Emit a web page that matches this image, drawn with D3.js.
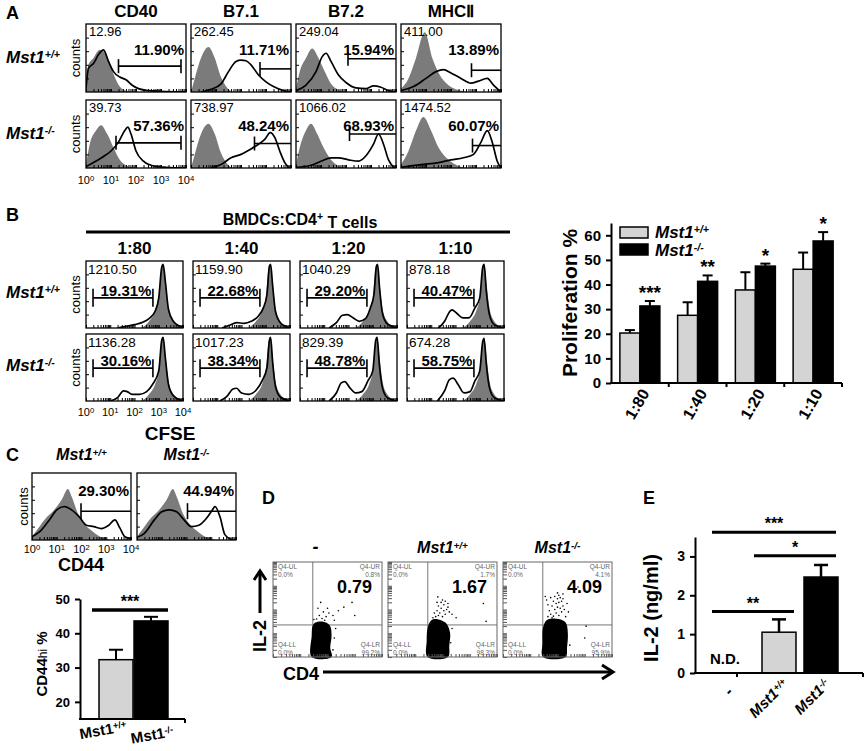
<!DOCTYPE html>
<html>
<head>
<meta charset="utf-8">
<script src="https://cdn.jsdelivr.net/npm/d3@7"></script>
<style>
  body { margin: 0; background: #fff; }
  svg { display: block; }
</style>
</head>
<body>
<svg id="fig" width="866" height="751"></svg>
<script>
// ---------- data ----------
const decades = ["0", "1", "2", "3", "4"];

// Panel A: surface markers, two genotypes (rows)
const aMarkers = ["CD40", "B7.1", "B7.2", "MHC\u2161"];
const aMfi = [["12.96", "262.45", "249.04", "411.00"], ["39.73", "738.97", "1066.02", "1474.52"]];
const aPct = [["11.90%", "11.71%", "15.94%", "13.89%"], ["57.36%", "48.24%", "68.93%", "60.07%"]];
// gate: [from log, to log, height]
const aGates = [
  [[1.3, 3.8, 0.38], [2.76, 4, 0.34], [2.08, 4, 0.49], [2.82, 4, 0.32]],
  [[1.2, 3.8, 0.37], [2.54, 4, 0.36], [2.14, 4, 0.5], [2.86, 4, 0.33]]
];
// histogram outlines: [log fluorescence, relative counts]
const aIso = [
  [
    [[0, 0.08], [0.1, 0.4], [0.3, 0.5], [0.55, 0.62], [0.75, 0.58], [0.95, 0.42], [1.15, 0.22], [1.35, 0.08], [1.6, 0.02], [2, 0]],
    [[0, 0], [0.15, 0.2], [0.4, 0.5], [0.7, 0.66], [0.95, 0.5], [1.2, 0.22], [1.45, 0.06], [1.7, 0]],
    [[0, 0.05], [0.15, 0.3], [0.4, 0.5], [0.65, 0.64], [0.9, 0.5], [1.15, 0.3], [1.4, 0.12], [1.7, 0.03], [2, 0]],
    [[0, 0.05], [0.3, 0.2], [0.6, 0.5], [0.95, 0.88], [1.25, 0.5], [1.55, 0.25], [1.9, 0.1], [2.3, 0.03], [2.7, 0]]
  ],
  [
    [[0, 0.05], [0.15, 0.35], [0.4, 0.55], [0.6, 0.63], [0.85, 0.5], [1.1, 0.3], [1.35, 0.12], [1.6, 0.04], [2, 0]],
    [[0, 0], [0.15, 0.2], [0.4, 0.5], [0.7, 0.65], [0.95, 0.5], [1.2, 0.22], [1.45, 0.06], [1.7, 0]],
    [[0, 0.05], [0.15, 0.3], [0.4, 0.55], [0.6, 0.65], [0.85, 0.5], [1.1, 0.3], [1.4, 0.12], [1.7, 0.03], [2, 0]],
    [[0, 0.05], [0.3, 0.25], [0.6, 0.55], [0.9, 0.75], [1.2, 0.55], [1.5, 0.3], [1.9, 0.12], [2.3, 0.03], [2.7, 0]]
  ]
];
const aStain = [
  [
    [[0, 0.05], [0.1, 0.35], [0.3, 0.42], [0.5, 0.55], [0.7, 0.62], [0.9, 0.45], [1.1, 0.3], [1.35, 0.22], [1.6, 0.18], [1.85, 0.1], [2.1, 0.05], [2.5, 0.02], [3, 0.01], [4, 0]],
    [[0.4, 0], [0.8, 0.04], [1.2, 0.12], [1.5, 0.3], [1.8, 0.45], [2.0, 0.47], [2.2, 0.46], [2.4, 0.4], [2.7, 0.25], [3.0, 0.15], [3.3, 0.08], [3.7, 0.02], [4, 0]],
    [[0, 0.02], [0.4, 0.1], [0.8, 0.3], [1.05, 0.52], [1.2, 0.57], [1.4, 0.45], [1.7, 0.25], [2.0, 0.14], [2.4, 0.06], [2.8, 0.05], [3.1, 0.09], [3.4, 0.07], [3.7, 0.02], [4, 0]],
    [[0, 0.02], [0.5, 0.08], [1.0, 0.2], [1.4, 0.3], [1.7, 0.33], [2.0, 0.28], [2.4, 0.2], [2.8, 0.13], [3.1, 0.16], [3.45, 0.2], [3.7, 0.1], [4, 0]]
  ],
  [
    [[0, 0.02], [0.3, 0.08], [0.7, 0.17], [1.0, 0.25], [1.3, 0.38], [1.55, 0.55], [1.67, 0.6], [1.8, 0.5], [2.0, 0.25], [2.3, 0.1], [2.7, 0.03], [3.2, 0.01], [4, 0]],
    [[0.8, 0], [1.2, 0.05], [1.6, 0.15], [2.0, 0.2], [2.4, 0.28], [2.7, 0.35], [2.95, 0.42], [3.17, 0.52], [3.35, 0.45], [3.55, 0.25], [3.75, 0.08], [3.95, 0]],
    [[0, 0.01], [0.6, 0.04], [1.0, 0.1], [1.4, 0.15], [1.7, 0.15], [2.1, 0.12], [2.5, 0.1], [2.8, 0.18], [3.1, 0.35], [3.3, 0.5], [3.5, 0.35], [3.7, 0.12], [3.95, 0]],
    [[0, 0.01], [0.8, 0.05], [1.5, 0.08], [2.0, 0.12], [2.5, 0.15], [2.9, 0.2], [3.2, 0.38], [3.45, 0.55], [3.65, 0.38], [3.85, 0.1], [4, 0]]
  ]
];

// Panel B: CFSE dilution
const bRatios = ["1:80", "1:40", "1:20", "1:10"];
const bMfi = [["1210.50", "1159.90", "1040.29", "878.18"], ["1136.28", "1017.23", "829.39", "674.28"]];
const bPct = [["19.31%", "22.68%", "29.20%", "40.47%"], ["30.16%", "38.34%", "48.78%", "58.75%"]];
const bGates = [[0.29, 2.76, 0.45], [0.29, 2.76, 0.49]];
const bIso = [[2.3, 0], [2.6, 0.1], [2.85, 0.25], [3.0, 0.45], [3.12, 0.9], [3.18, 0.95], [3.27, 0.7], [3.4, 0.3], [3.6, 0.1], [3.85, 0.02], [4, 0]];
const bStain = [
  [
    [[1.3, 0], [1.6, 0.02], [2.0, 0.05], [2.3, 0.08], [2.6, 0.14], [2.85, 0.25], [3.0, 0.45], [3.12, 0.9], [3.18, 0.95], [3.27, 0.7], [3.4, 0.28], [3.6, 0.1], [3.85, 0.03], [4, 0.01]],
    [[1.2, 0], [1.5, 0.04], [1.8, 0.08], [2.1, 0.07], [2.4, 0.1], [2.7, 0.18], [2.9, 0.3], [3.05, 0.5], [3.15, 0.92], [3.2, 0.95], [3.28, 0.65], [3.4, 0.25], [3.6, 0.08], [3.85, 0.02], [4, 0]],
    [[1.2, 0], [1.5, 0.08], [1.75, 0.19], [1.95, 0.2], [2.2, 0.15], [2.45, 0.1], [2.7, 0.14], [2.9, 0.3], [3.05, 0.5], [3.15, 0.92], [3.2, 0.95], [3.28, 0.6], [3.4, 0.22], [3.6, 0.06], [3.85, 0.02], [4, 0]],
    [[1.3, 0], [1.55, 0.1], [1.75, 0.24], [1.85, 0.27], [2.05, 0.22], [2.3, 0.15], [2.55, 0.15], [2.8, 0.3], [3.0, 0.45], [3.12, 0.9], [3.18, 0.95], [3.27, 0.55], [3.4, 0.2], [3.6, 0.05], [4, 0]]
  ],
  [
    [[1.0, 0], [1.3, 0.05], [1.55, 0.15], [1.7, 0.14], [1.9, 0.1], [2.2, 0.1], [2.5, 0.14], [2.75, 0.25], [3.0, 0.45], [3.12, 0.9], [3.18, 0.95], [3.27, 0.65], [3.4, 0.25], [3.6, 0.08], [4, 0]],
    [[1.1, 0], [1.4, 0.07], [1.65, 0.18], [1.8, 0.19], [2.0, 0.12], [2.3, 0.1], [2.6, 0.16], [2.85, 0.3], [3.05, 0.5], [3.15, 0.9], [3.2, 0.95], [3.28, 0.6], [3.4, 0.22], [3.6, 0.06], [4, 0]],
    [[1.2, 0], [1.5, 0.12], [1.7, 0.27], [1.85, 0.29], [2.05, 0.2], [2.3, 0.12], [2.55, 0.14], [2.8, 0.3], [3.0, 0.45], [3.12, 0.9], [3.18, 0.95], [3.27, 0.55], [3.4, 0.2], [3.6, 0.05], [4, 0]],
    [[1.25, 0], [1.55, 0.15], [1.75, 0.32], [1.9, 0.34], [2.1, 0.25], [2.35, 0.12], [2.6, 0.14], [2.8, 0.3], [3.0, 0.45], [3.12, 0.88], [3.18, 0.93], [3.27, 0.55], [3.4, 0.2], [3.6, 0.05], [4, 0]]
  ]
];
// Panel B bar chart
const prolifWT = [20.3, 27.5, 37.8, 46.2];
const prolifWTErr = [1.2, 5.3, 7.2, 6.8];
const prolifKO = [31.3, 41.3, 47.5, 57.7];
const prolifKOErr = [2.0, 2.4, 1.0, 3.6];
const prolifStars = ["***", "**", "*", "*"];
const prolifTicks = [0, 10, 20, 30, 40, 50, 60];

// Panel C: CD44
const cPct = ["29.30%", "44.94%"];
const cGates = [[1.98, 4, 0.43], [2.04, 4, 0.43]];
const cIso = [[0, 0.05], [0.2, 0.15], [0.5, 0.3], [0.9, 0.45], [1.2, 0.6], [1.45, 0.76], [1.6, 0.65], [1.85, 0.4], [2.1, 0.25], [2.4, 0.14], [2.7, 0.06], [3.0, 0.02], [3.3, 0]];
const cStain = [
  [[0, 0.05], [0.3, 0.12], [0.7, 0.3], [1.0, 0.45], [1.3, 0.5], [1.6, 0.45], [1.9, 0.35], [2.2, 0.22], [2.5, 0.2], [2.8, 0.17], [3.1, 0.22], [3.35, 0.3], [3.55, 0.18], [3.75, 0.05], [4, 0.02]],
  [[0, 0.04], [0.3, 0.1], [0.7, 0.3], [1.0, 0.42], [1.3, 0.45], [1.6, 0.42], [1.9, 0.3], [2.2, 0.2], [2.5, 0.22], [2.8, 0.32], [3.05, 0.45], [3.15, 0.5], [3.35, 0.35], [3.55, 0.08], [3.8, 0.01], [4, 0]]
];
const cd44Groups = ["+/+", "-/-"];
const cd44Vals = [32.3, 43.6];
const cd44Err = [2.9, 1.2];
const cd44Ticks = [20, 30, 40, 50];

// Panel D: IL-2 vs CD4 dot plots
const dTitles = ["-", "+/+", "-/-"];
const dBig = ["0.79", "1.67", "4.09"];
const dQuad = [["0.0%", "0.8%", "0.0%", "99.2%"], ["0.0%", "1.7%", "0.0%", "98.3%"], ["0.0%", "4.1%", "0.0%", "95.9%"]];
const dBlob = [
  [[1.42, 0], [1.42, 0.9], [1.45, 1.3], [1.55, 1.45], [1.75, 1.5], [1.95, 1.45], [2.1, 1.3], [2.15, 0.9], [2.1, 0.4], [2.15, 0]],
  [[1.45, 0], [1.42, 0.7], [1.45, 1.2], [1.55, 1.5], [1.7, 1.6], [1.95, 1.55], [2.15, 1.4], [2.28, 1.0], [2.25, 0.5], [2.2, 0]],
  [[1.47, 0], [1.45, 0.6], [1.47, 1.25], [1.6, 1.55], [1.8, 1.62], [2.05, 1.6], [2.3, 1.45], [2.38, 1.0], [2.35, 0.4], [2.3, 0]]
];
const dDots = [
  [[1.6, 1.6], [1.8, 1.62], [1.7, 1.75], [1.95, 1.7], [2.05, 1.85], [1.85, 1.9], [2.2, 1.75], [2.4, 1.95], [2.6, 2.1], [2.9, 2.3], [3.0, 1.75], [1.65, 2.05], [2.0, 2.05], [1.5, 1.58], [2.25, 1.55], [1.9, 1.55], [2.2, 0.3], [2.25, 0.8], [2.3, 1.2], [1.75, 2.3]],
  [[1.75, 1.7], [1.85, 1.75], [2.0, 1.7], [2.1, 1.8], [1.9, 1.85], [2.05, 1.95], [1.8, 1.95], [2.15, 2.0], [1.95, 2.05], [2.2, 2.1], [1.85, 2.15], [2.05, 2.2], [2.2, 2.25], [1.95, 2.3], [2.1, 2.35], [1.8, 2.3], [2.25, 1.9], [1.7, 1.85], [1.83, 2.53], [3.5, 2.25], [2.5, 1.65], [3.6, 1.5], [2.35, 1.8], [2.0, 2.4], [1.65, 1.65], [2.3, 0.6], [2.35, 1.2]],
  [[1.65, 1.7], [1.75, 1.8], [1.85, 1.72], [1.95, 1.85], [2.05, 1.75], [2.15, 1.9], [1.7, 1.95], [1.9, 2.0], [2.0, 2.1], [2.1, 2.05], [2.2, 2.15], [1.8, 2.15], [1.95, 2.25], [2.05, 2.3], [2.15, 2.35], [1.85, 2.35], [2.0, 2.45], [1.9, 2.55], [2.1, 2.5], [2.2, 2.45], [1.75, 2.5], [2.05, 2.6], [1.6, 2.4], [2.25, 2.0], [1.65, 2.2], [1.55, 2.55], [2.3, 1.7], [2.4, 1.9], [2.6, 2.75], [2.75, 2.95], [3.05, 1.3], [3.0, 0.8], [2.0, 2.7], [2.2, 2.65], [1.8, 1.65], [2.35, 2.25], [2.45, 0.5]]
];
const dQuadGate = [1.46, 1.35];

// Panel E: IL-2 secretion
const il2Groups = ["-", "+/+", "-/-"];
const il2Vals = [0, 1.05, 2.47];
const il2Err = [0, 0.33, 0.31];
const il2Ticks = [0, 1, 2, 3];
// [from group, to group, height, label]
const il2Sig = [[0, 2, 3.62, "***"], [1, 2, 3.02, "*"], [0, 1, 1.58, "**"]];

// ---------- drawing ----------
const svg = d3.select("#fig")
  .attr("font-family", "Arial, 'Liberation Sans', Helvetica, sans-serif");
svg.append("rect").attr("width", 866).attr("height", 751).attr("fill", "#fff");

const minorTicks = d3.range(0, 4).flatMap(d => d3.range(1, 10).map(k => d + Math.log10(k))).concat([4]);
const countTicks = [0.2, 0.4, 0.6, 0.8];

function txt(g, x, y, s, size, weight, anchor, style) {
  return g.append("text").attr("x", x).attr("y", y)
    .attr("font-size", size)
    .attr("font-weight", weight || "normal")
    .attr("text-anchor", anchor || "start")
    .attr("font-style", style || "normal")
    .text(s);
}
function geno(t, sup) {
  t.append("tspan").text("Mst1");
  t.append("tspan").attr("dy", "-0.45em").attr("font-size", "0.62em").text(sup);
  return t;
}
function decadeLabels(gx, gy, w) {
  decades.forEach((d, i) => {
    const t = txt(svg, gx + i * w / 4, gy, "", 11, "normal", "middle");
    t.append("tspan").text("10");
    t.append("tspan").attr("dy", "-0.45em").attr("font-size", "0.7em").text(d);
  });
}
function countsLabel(x, cy) {
  txt(svg, 0, 0, "counts", 13, "normal", "middle")
    .attr("transform", `translate(${x},${cy}) rotate(-90)`);
}
function styleAxis(a, size) {
  a.select(".domain").attr("stroke-width", 2);
  a.selectAll(".tick line").attr("stroke-width", 2);
  a.selectAll("text").attr("font-size", size).attr("font-weight", "bold")
    .attr("font-family", "Arial, 'Liberation Sans', sans-serif").attr("dx", "-2");
}

let clipN = 0;
function histo(gx, gy, w, h, iso, stain, gate, tick) {
  const g = svg.append("g").attr("transform", `translate(${gx},${gy})`);
  const x = d3.scaleLinear().domain([0, 4]).range([0, w]);
  const y = d3.scaleLinear().domain([0, 1]).range([h, 0]);
  const id = "clip" + clipN++;
  g.append("clipPath").attr("id", id).append("rect").attr("width", w).attr("height", h);
  const inner = g.append("g").attr("clip-path", `url(#${id})`);
  inner.append("path").datum(iso)
    .attr("d", d3.area().x(d => x(d[0])).y0(h).y1(d => y(d[1])).curve(d3.curveMonotoneX))
    .attr("fill", "#7b7b7b");
  inner.append("path").datum(stain)
    .attr("d", d3.line().x(d => x(d[0])).y(d => y(d[1])).curve(d3.curveMonotoneX))
    .attr("fill", "none").attr("stroke", "#000").attr("stroke-width", 1.7);
  g.append("g").attr("transform", `translate(0,${h})`)
    .call(d3.axisTop(x).tickValues(minorTicks).tickSize(3).tickFormat(""))
    .call(a => a.select(".domain").remove());
  g.append("g")
    .call(d3.axisRight(y).tickValues(countTicks).tickSize(3).tickFormat(""))
    .call(a => a.select(".domain").remove());
  g.append("rect").attr("width", w).attr("height", h).attr("fill", "none")
    .attr("stroke", "#000").attr("stroke-width", 1.3);
  const gyy = y(gate[2]);
  g.append("line").attr("x1", x(gate[0])).attr("x2", x(gate[1]))
    .attr("y1", gyy).attr("y2", gyy).attr("stroke", "#000").attr("stroke-width", 1.6);
  [gate[0], gate[1]].filter(v => v < 4).forEach(v => {
    g.append("line").attr("x1", x(v)).attr("x2", x(v))
      .attr("y1", gyy - tick).attr("y2", gyy + tick)
      .attr("stroke", "#000").attr("stroke-width", 1.6);
  });
  return { g, x, y };
}

// ===== Panel A =====
txt(svg, 6, 19, "A", 18, "bold");
const aX = [86, 191, 296, 401], aY = [24, 100], aW = 100, aH = 68;
aMarkers.forEach((m, j) => txt(svg, aX[j] + aW / 2, 17, m, 17, "bold", "middle"));
["+/+", "-/-"].forEach((s, i) => {
  geno(txt(svg, 6, aY[i] + 39, "", 17, "bold", "start", "italic"), s);
  countsLabel(80, aY[i] + aH / 2);
  aMarkers.forEach((m, j) => {
    const h = histo(aX[j], aY[i], aW, aH, aIso[i][j], aStain[i][j], aGates[i][j], 7);
    txt(h.g, 3, 12, aMfi[i][j], 13);
    txt(h.g, aW - 2, 31, aPct[i][j], 15, "bold", "end");
  });
});
decadeLabels(aX[0], 184, aW);

// ===== Panel B: histograms =====
txt(svg, 6, 221, "B", 18, "bold");
const bX = [86, 193, 300, 407], bY = [261, 334], bW = 97, bH = 67;
const bTitle = txt(svg, 300, 225, "", 16, "bold", "middle");
bTitle.append("tspan").text("BMDCs:CD4");
bTitle.append("tspan").attr("dy", "-0.45em").attr("font-size", "0.65em").text("+");
bTitle.append("tspan").attr("dy", "0.45em").text(" T cells");
svg.append("line").attr("x1", 86).attr("x2", 510).attr("y1", 232).attr("y2", 232)
  .attr("stroke", "#000").attr("stroke-width", 3);
bRatios.forEach((r, j) => txt(svg, bX[j] + bW / 2, 254, r, 17, "bold", "middle"));
["+/+", "-/-"].forEach((s, i) => {
  geno(txt(svg, 6, bY[i] + 37, "", 17, "bold", "start", "italic"), s);
  countsLabel(80, bY[i] + bH / 2);
  bRatios.forEach((r, j) => {
    const h = histo(bX[j], bY[i], bW, bH, bIso, bStain[i][j], bGates[i], 9);
    txt(h.g, 2, 13, bMfi[i][j], 13.5);
    txt(h.g, (h.x(bGates[i][0]) + h.x(bGates[i][1])) / 2 + 3, h.y(bGates[i][2]) - 2,
      bPct[i][j], 15, "bold", "middle");
  });
});
decadeLabels(bX[0], 416, bW);
txt(svg, 170, 440, "CFSE", 19, "bold", "middle");

// ===== Panel B: bar chart =====
{
  const x = d3.scaleBand().domain(bRatios).range([611, 842]);
  const y = d3.scaleLinear().domain([0, 65]).range([383, 223]);
  const sub = d3.scaleBand().domain(["wt", "ko"]).range([-20, 20]);
  const g = svg.append("g");
  const series = [
    { key: "wt", vals: prolifWT, err: prolifWTErr, fill: "#d4d4d4" },
    { key: "ko", vals: prolifKO, err: prolifKOErr, fill: "#000" }
  ];
  series.forEach(s => {
    bRatios.forEach((r, i) => {
      const cx = x(r) + x.bandwidth() / 2 + sub(s.key);
      const bw = sub.bandwidth();
      g.append("rect").attr("x", cx).attr("y", y(s.vals[i])).attr("width", bw)
        .attr("height", y(0) - y(s.vals[i])).attr("fill", s.fill)
        .attr("stroke", "#000").attr("stroke-width", 1.5);
      const ex = cx + bw / 2, top = y(s.vals[i] + s.err[i]);
      g.append("line").attr("x1", ex).attr("x2", ex).attr("y1", y(s.vals[i])).attr("y2", top)
        .attr("stroke", "#000").attr("stroke-width", 2);
      g.append("line").attr("x1", ex - 5).attr("x2", ex + 5).attr("y1", top).attr("y2", top)
        .attr("stroke", "#000").attr("stroke-width", 2);
      if (s.key === "ko") txt(g, ex, top - 2, prolifStars[i], 19, "bold", "middle");
    });
  });
  g.append("g").attr("transform", "translate(611,0)")
    .call(d3.axisLeft(y).tickValues(prolifTicks).tickSize(5).tickSizeOuter(0).tickFormat(d3.format("d")))
    .call(a => styleAxis(a, 15));
  g.append("line").attr("x1", 610).attr("x2", 842).attr("y1", y(0)).attr("y2", y(0))
    .attr("stroke", "#000").attr("stroke-width", 2);
  bRatios.forEach(r => {
    const bx = x(r) + x.bandwidth();
    g.append("line").attr("x1", bx).attr("x2", bx).attr("y1", y(0)).attr("y2", y(0) + 4)
      .attr("stroke", "#000").attr("stroke-width", 2);
    const cx = x(r) + x.bandwidth() / 2;
    txt(g, 0, 0, r, 16, "bold", "end")
      .attr("transform", `translate(${cx + 10},${y(0) + 10}) rotate(-60)`);
  });
  txt(g, 0, 0, "Proliferation %", 21, "bold", "middle")
    .attr("transform", `translate(577,${(y(0) + y(65)) / 2}) rotate(-90)`);
  // legend
  g.append("rect").attr("x", 620).attr("y", 227).attr("width", 28).attr("height", 11)
    .attr("fill", "#d4d4d4").attr("stroke", "#000").attr("stroke-width", 1.5);
  g.append("rect").attr("x", 620).attr("y", 244).attr("width", 28).attr("height", 11)
    .attr("fill", "#000").attr("stroke", "#000").attr("stroke-width", 1.5);
  geno(txt(g, 655, 238, "", 17, "bold", "start", "italic"), "+/+");
  geno(txt(g, 655, 256, "", 17, "bold", "start", "italic"), "-/-");
}

// ===== Panel C =====
txt(svg, 6, 461, "C", 18, "bold");
const cX = [32, 137], cY = 473, cW = 99, cH = 67;
["+/+", "-/-"].forEach((s, i) => {
  geno(txt(svg, cX[i] + cW / 2, 460, "", 16, "bold", "middle", "italic"), s);
  const h = histo(cX[i], cY, cW, cH, cIso, cStain[i], cGates[i], 8);
  txt(h.g, cW - 2, 23, cPct[i], 15, "bold", "end");
});
countsLabel(28, cY + cH / 2);
decadeLabels(cX[0], 553, cW);
txt(svg, 81, 571, "CD44", 18, "bold", "middle");
{
  const g = svg.append("g");
  const x = d3.scaleBand().domain(cd44Groups).range([99, 168]).paddingInner(0.03);
  const y = d3.scaleLinear().domain([15, 50]).range([719, 599]);
  const fills = ["#d4d4d4", "#000"];
  cd44Groups.forEach((k, i) => {
    g.append("rect").attr("x", x(k)).attr("y", y(cd44Vals[i])).attr("width", x.bandwidth())
      .attr("height", y(15) - y(cd44Vals[i])).attr("fill", fills[i])
      .attr("stroke", "#000").attr("stroke-width", 1.5);
    const ex = x(k) + x.bandwidth() / 2, top = y(cd44Vals[i] + cd44Err[i]);
    g.append("line").attr("x1", ex).attr("x2", ex).attr("y1", y(cd44Vals[i])).attr("y2", top)
      .attr("stroke", "#000").attr("stroke-width", 2);
    g.append("line").attr("x1", ex - 7).attr("x2", ex + 7).attr("y1", top).attr("y2", top)
      .attr("stroke", "#000").attr("stroke-width", 2);
    geno(txt(g, 0, 0, "", 15, "bold", "middle"), k)
      .attr("transform", `translate(${ex - 12 + i * 14},${735 + i * 5}) rotate(-10)`);
  });
  g.append("g").attr("transform", "translate(80,0)")
    .call(d3.axisLeft(y).tickValues(cd44Ticks).tickSize(5).tickSizeOuter(0).tickFormat(d3.format("d")))
    .call(a => styleAxis(a, 13));
  g.append("line").attr("x1", 79).attr("x2", 185).attr("y1", y(15)).attr("y2", y(15))
    .attr("stroke", "#000").attr("stroke-width", 2);
  g.append("line").attr("x1", 185).attr("x2", 185).attr("y1", y(15)).attr("y2", y(15) + 4)
    .attr("stroke", "#000").attr("stroke-width", 2);
  g.append("line").attr("x1", 92).attr("x2", 168).attr("y1", y(46.8)).attr("y2", y(46.8))
    .attr("stroke", "#000").attr("stroke-width", 3.5);
  txt(g, 130, y(46.8) - 3, "***", 16, "bold", "middle");
  const yl = txt(g, 0, 0, "", 15, "bold", "middle")
    .attr("transform", `translate(47,${(y(15) + y(50)) / 2 + 5}) rotate(-90)`);
  yl.append("tspan").text("CD44");
  yl.append("tspan").attr("font-size", "0.8em").attr("font-weight", "normal").text("hi");
  yl.append("tspan").text(" %");
}

// ===== Panel D =====
txt(svg, 262, 504, "D", 18, "bold");
const dX = [273, 388, 503], dY = 562, dW = 109, dH = 95;
dTitles.forEach((t, i) => {
  const cx = dX[i] + dW / 2;
  if (t === "-") txt(svg, cx - 12, 553, "-", 18, "bold", "middle", "italic");
  else geno(txt(svg, cx, 553, "", 16, "bold", "middle", "italic"), t);
  const g = svg.append("g").attr("transform", `translate(${dX[i]},${dY})`);
  const x = d3.scaleLinear().domain([0, 4]).range([0, dW]);
  const y = d3.scaleLinear().domain([0, 4]).range([dH, 0]);
  g.append("rect").attr("width", dW).attr("height", dH).attr("fill", "#fff");
  g.append("line").attr("x1", x(dQuadGate[0])).attr("x2", x(dQuadGate[0]))
    .attr("y1", 0).attr("y2", dH).attr("stroke", "#777").attr("stroke-width", 1);
  g.append("line").attr("x1", 0).attr("x2", dW).attr("y1", y(dQuadGate[1])).attr("y2", y(dQuadGate[1]))
    .attr("stroke", "#777").attr("stroke-width", 1);
  g.append("path").datum(dBlob[i])
    .attr("d", d3.line().x(d => x(d[0])).y(d => y(d[1])).curve(d3.curveCatmullRomClosed))
    .attr("fill", "#000");
  g.selectAll("circle.dot").data(dDots[i]).enter().append("circle")
    .attr("cx", d => x(d[0])).attr("cy", d => y(d[1])).attr("r", 0.8).attr("fill", "#000");
  g.append("g").attr("transform", `translate(0,${dH})`)
    .call(d3.axisTop(x).tickValues(minorTicks).tickSize(3).tickFormat(""))
    .call(a => { a.select(".domain").remove(); a.selectAll("line").attr("stroke", "#555"); });
  g.append("g")
    .call(d3.axisRight(y).tickValues(minorTicks).tickSize(4).tickFormat(""))
    .call(a => { a.select(".domain").remove(); a.selectAll("line").attr("stroke", "#555"); });
  g.append("rect").attr("width", dW).attr("height", dH).attr("fill", "none")
    .attr("stroke", "#666").attr("stroke-width", 1);
  const q = dQuad[i];
  const small = (xx, yy, s, an) => txt(g, xx, yy, s, 6.5, "normal", an).attr("fill", "#666");
  small(5, 7, "Q4-UL", "start"); small(5, 15, q[0], "start");
  small(dW - 2, 7, "Q4-UR", "end"); small(dW - 2, 15, q[1], "end");
  small(5, dH - 10, "Q4-LL", "start"); small(5, dH - 2, q[2], "start");
  small(dW - 2, dH - 10, "Q4-LR", "end"); small(dW - 2, dH - 2, q[3], "end");
  txt(g, dW - 10, 31, dBig[i], 18, "bold", "end");
});
// axis labels with arrows
txt(svg, 0, 0, "IL-2", 18, "bold", "middle").attr("transform", "translate(266,636) rotate(-90)");
svg.append("line").attr("x1", 260).attr("x2", 260).attr("y1", 613).attr("y2", 572)
  .attr("stroke", "#000").attr("stroke-width", 3);
svg.append("path").attr("d", "M254,580 L260,571 L266,580").attr("fill", "none")
  .attr("stroke", "#000").attr("stroke-width", 3);
txt(svg, 283, 680, "CD4", 18, "bold");
svg.append("line").attr("x1", 323).attr("x2", 612).attr("y1", 672).attr("y2", 672)
  .attr("stroke", "#000").attr("stroke-width", 3);
svg.append("path").attr("d", "M602,665 L613,672 L602,679").attr("fill", "none")
  .attr("stroke", "#000").attr("stroke-width", 3);

// ===== Panel E =====
txt(svg, 643, 504, "E", 18, "bold");
{
  const g = svg.append("g");
  const x = d3.scalePoint().domain(il2Groups).range([737, 821]);
  const y = d3.scaleLinear().domain([0, 3.5]).range([673, 537]);
  const fills = ["none", "#d4d4d4", "#000"];
  const bw = 34;
  il2Groups.forEach((k, i) => {
    if (il2Vals[i] > 0) {
      g.append("rect").attr("x", x(k) - bw / 2).attr("y", y(il2Vals[i])).attr("width", bw)
        .attr("height", y(0) - y(il2Vals[i])).attr("fill", fills[i])
        .attr("stroke", "#000").attr("stroke-width", 1.5);
      const top = y(il2Vals[i] + il2Err[i]);
      g.append("line").attr("x1", x(k)).attr("x2", x(k)).attr("y1", y(il2Vals[i])).attr("y2", top)
        .attr("stroke", "#000").attr("stroke-width", 2.5);
      g.append("line").attr("x1", x(k) - 7).attr("x2", x(k) + 7).attr("y1", top).attr("y2", top)
        .attr("stroke", "#000").attr("stroke-width", 2.5);
    } else {
      txt(g, x(k) - 12, y(0) - 9, "N.D.", 15, "bold", "middle");
    }
    if (k === "-") {
      txt(g, 0, 0, "-", 16, "bold", "end", "italic")
        .attr("transform", `translate(${x(k) - 3},${y(0) + 20}) rotate(-45)`);
    } else {
      geno(txt(g, 0, 0, "", 15, "bold", "end", "italic"), k)
        .attr("transform", `translate(${x(k) + 10},${y(0) + 12}) rotate(-45)`);
    }
  });
  g.append("g").attr("transform", "translate(695,0)")
    .call(d3.axisLeft(y).tickValues(il2Ticks).tickSize(5).tickSizeOuter(0).tickFormat(d3.format("d")))
    .call(a => styleAxis(a, 14));
  g.append("line").attr("x1", 694).attr("x2", 863).attr("y1", y(0)).attr("y2", y(0))
    .attr("stroke", "#000").attr("stroke-width", 2);
  [x("-"), 863].forEach(tx => g.append("line").attr("x1", tx).attr("x2", tx)
    .attr("y1", y(0)).attr("y2", y(0) + 4).attr("stroke", "#000").attr("stroke-width", 2));
  il2Sig.forEach(s => {
    const x1 = x(il2Groups[s[0]]) - 25, x2 = x(il2Groups[s[1]]) + 15;
    g.append("line").attr("x1", x1).attr("x2", x2).attr("y1", y(s[2])).attr("y2", y(s[2]))
      .attr("stroke", "#000").attr("stroke-width", 3);
    txt(g, (x1 + x2) / 2, y(s[2]) - 3, s[3], 16, "bold", "middle");
  });
  txt(g, 0, 0, "IL-2 (ng/ml)", 20, "bold", "middle")
    .attr("transform", `translate(658,${(y(0) + y(3.5)) / 2 + 3}) rotate(-90)`);
}
</script>
</body>
</html>
